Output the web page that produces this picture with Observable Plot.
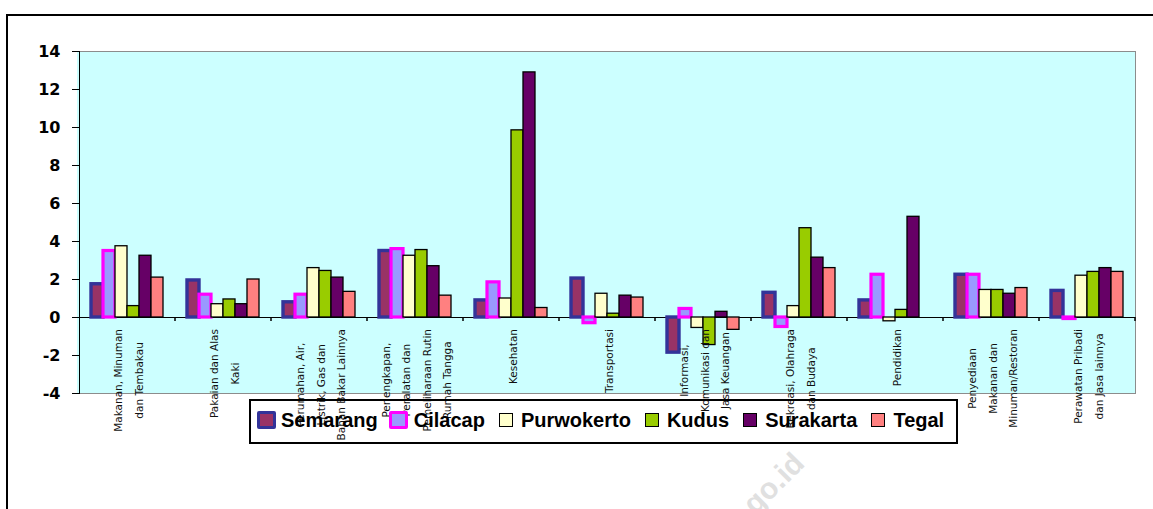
<!DOCTYPE html>
<html>
<head>
<meta charset="utf-8">
<script src="https://cdn.jsdelivr.net/npm/d3@7"></script>
<script src="https://cdn.jsdelivr.net/npm/@observablehq/plot@0.6"></script>
<style>
html, body { margin: 0; padding: 0; background: #fff; overflow: hidden; }
#wrap { position: relative; width: 1153px; height: 509px; overflow: hidden; background: #fff; }
#outer { position: absolute; left: 6px; top: 14px; width: 1300px; height: 700px; border: 2px solid #000; }
#bg { position: absolute; background: #CCFFFF; border: 1px solid #8c8c8c; border-left: none; box-sizing: border-box; }
#wm { position: absolute; left: 0; top: 0; }
#chart { position: absolute; left: 0; top: 0; }
#legend { position: absolute; left: 249px; top: 399px; width: 709px; height: 45px; box-sizing: border-box;
  border: 2px solid #000; display: flex; align-items: center; padding-left: 5px; padding-bottom: 3px;
  font: bold 20px "Liberation Sans", Arial, sans-serif; color: #000; }
#legend .item { display: flex; align-items: center; margin-right: 11px; line-height: 20px; }
#legend .sw { width: 20px; height: 20px; display: flex; align-items: center; justify-content: center; margin-right: 5px; }
#legend .sw span { display: block; box-sizing: border-box; }
g[aria-label="y-axis tick label"], g[aria-label="y-axis tick label"] text, g[aria-label="y-axis"] text {
  font: bold 16px "DejaVu Sans", sans-serif; }
</style>
</head>
<body>
<div id="wrap">
  <div id="outer"></div>
  <div id="bg"></div>
  <svg id="wm" width="1153" height="509"><text x="806" y="465" text-anchor="end" transform="rotate(-45 806 465)"
    style="font: bold 30px 'Liberation Sans', Arial, sans-serif; fill: #e0e0e0;">www.bps.go.id</text></svg>
  <div id="chart"></div>
  <div id="legend"></div>
</div>
<script>
// ---- data ----
const categories = [
  "Makanan, Minuman dan Tembakau",
  "Pakaian dan Alas Kaki",
  "Perumahan, Air, Listrik, Gas dan Bahan Bakar Lainnya",
  "Perlengkapan, Peralatan dan Pemeliharaan Rutin Rumah Tangga",
  "Kesehatan",
  "Transportasi",
  "Informasi, Komunikasi dan Jasa Keuangan",
  "Rekreasi, Olahraga dan Budaya",
  "Pendidikan",
  "Penyediaan Makanan dan Minuman/Restoran",
  "Perawatan Pribadi dan Jasa lainnya"
];
const categoryLabels = [
  "Makanan, Minuman\ndan Tembakau",
  "Pakaian dan Alas\nKaki",
  "Perumahan, Air,\nListrik, Gas dan\nBahan Bakar Lainnya",
  "Perlengkapan,\nPeralatan dan\nPemeliharaan Rutin\nRumah Tangga",
  "Kesehatan",
  "Transportasi",
  "Informasi,\nKomunikasi dan\nJasa Keuangan",
  "Rekreasi, Olahraga\ndan Budaya",
  "Pendidikan",
  "Penyediaan\nMakanan dan\nMinuman/Restoran",
  "Perawatan Pribadi\ndan Jasa lainnya"
];
const series = ["Semarang", "Cilacap", "Purwokerto", "Kudus", "Surakarta", "Tegal"];
const semarang   = [1.75, 1.95, 0.8, 3.5, 0.9, 2.05, -1.85, 1.3, 0.9, 2.25, 1.4];
const cilacap    = [3.5, 1.2, 1.2, 3.6, 1.85, -0.3, 0.45, -0.5, 2.25, 2.25, -0.08];
const purwokerto = [3.75, 0.7, 2.6, 3.25, 1.0, 1.25, -0.55, 0.6, -0.2, 1.45, 2.2];
const kudus      = [0.6, 0.95, 2.45, 3.55, 9.85, 0.2, -1.45, 4.7, 0.4, 1.45, 2.4];
const surakarta  = [3.25, 0.7, 2.1, 2.7, 12.9, 1.15, 0.3, 3.15, 5.3, 1.25, 2.6];
const tegal      = [2.1, 2.0, 1.35, 1.15, 0.5, 1.05, -0.65, 2.6, null, 1.55, 2.4];
const yTicks = [-4, -2, 0, 2, 4, 6, 8, 10, 12, 14];

// ---- styles ----
const seriesValues = [semarang, cilacap, purwokerto, kudus, surakarta, tegal];
const fills   = ["#993366", "#9999FF", "#FFFFCC", "#99CC00", "#660066", "#FF8080"];
const strokes = ["#333399", "#FF00FF", "#000000", "#000000", "#000000", "#000000"];
const widths  = [3.4, 3.2, 1.3, 1.3, 1.3, 1.3];

const W = 1153, H = 509, ML = 77, MR = 17, MT = 51, MB = 116;

const rows = series.flatMap((s, si) =>
  categories.map((c, ci) => ({cat: c, series: s, value: seriesValues[si][ci]}))
).filter(d => d.value != null);

// measure label widths to center multi-line rotated labels
const ctx = document.createElement("canvas").getContext("2d");
const LABEL_FONT_SIZE = 10.5;
ctx.font = `${LABEL_FONT_SIZE}px "DejaVu Sans"`;
const longest = categoryLabels.map(l => d3.max(l.split("\n"), t => ctx.measureText(t).width));

function boundaryTicks(index, scales, values, dimensions) {
  const g = d3.create("svg:g");
  const y0 = scales.y(0);
  const xr = dimensions.width - dimensions.marginRight;
  g.append("line").attr("x1", xr).attr("x2", xr).attr("y1", y0).attr("y2", y0 + 4)
    .attr("stroke", "#000").attr("stroke-width", 1.5);
  return g.node();
}

const marks = [
  Plot.ruleY([0], {stroke: "#000", strokeWidth: 1.2}),
  ...series.map((s, i) => Plot.barY(rows.filter(d => d.series === s), {
    fx: "cat", x: "series", y: "value",
    fill: fills[i], stroke: strokes[i], strokeWidth: widths[i]
  })),
  boundaryTicks,
  ...categories.map((c, i) => Plot.text([c], {
    fx: d => d, y: 0, text: () => categoryLabels[i],
    rotate: -90, textAnchor: "middle", lineAnchor: "middle", lineHeight: 1.95,
    dy: 11.5 + longest[i] / 2, dx: -1.5,
    fontSize: LABEL_FONT_SIZE, fontFamily: "DejaVu Sans", fill: "#111"
  }))
];

const chart = Plot.plot({
  width: W, height: H,
  marginLeft: ML, marginRight: MR, marginTop: MT, marginBottom: MB,
  style: {background: "transparent", fontFamily: "DejaVu Sans", fontSize: "10px", color: "#000", overflow: "visible"},
  fx: {domain: categories, padding: 0, axis: null},
  x: {domain: series, paddingInner: 0, paddingOuter: 0.8, axis: null},
  y: {domain: [-4, 14], ticks: yTicks, tickSize: 7, tickPadding: 12, line: true, label: null,
      tickFormat: d => String(d)},
  marks
});
document.getElementById("chart").appendChild(chart);

const bg = document.getElementById("bg");
bg.style.left = ML + "px";
bg.style.top = MT + "px";
bg.style.width = (W - ML - MR) + "px";
bg.style.height = (H - MT - MB + 1) + "px";

// legend
const legend = document.getElementById("legend");
series.forEach((s, i) => {
  const item = document.createElement("div");
  item.className = "item";
  const sw = document.createElement("div");
  sw.className = "sw";
  const box = document.createElement("span");
  const thick = widths[i] > 2;
  box.style.width = thick ? "19px" : "14px";
  box.style.height = thick ? "18px" : "14px";
  box.style.background = fills[i];
  box.style.border = `${thick ? 3.5 : 1.5}px solid ${strokes[i]}`;
  if (thick) box.style.borderRadius = "2px";
  sw.appendChild(box);
  const label = document.createElement("span");
  label.textContent = s;
  item.appendChild(sw);
  item.appendChild(label);
  legend.appendChild(item);
});
</script>
</body>
</html>
